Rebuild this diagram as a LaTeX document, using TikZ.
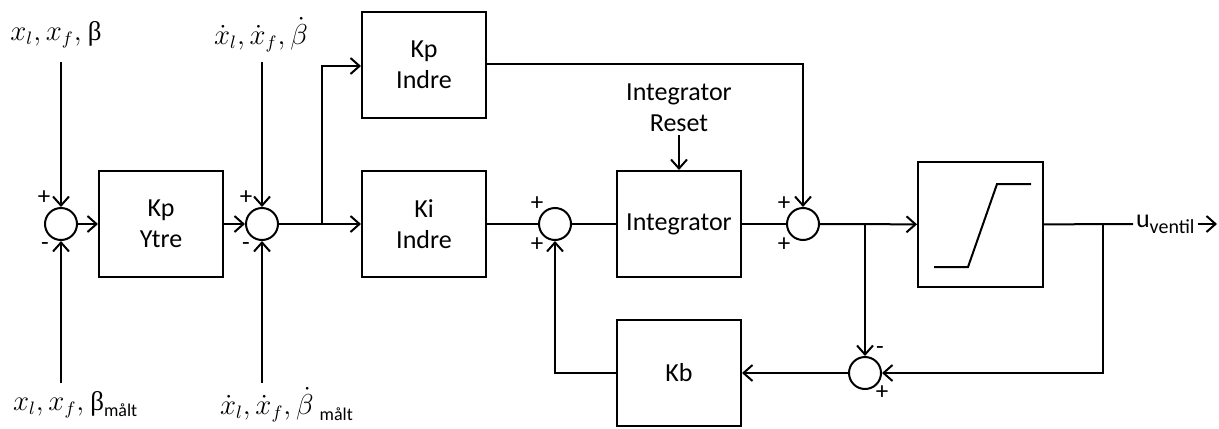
\documentclass[tikz,border=0pt]{standalone}
\usepackage{fontspec}
\setmainfont{Carlito}
\newfontfamily\grk{Liberation Serif}
\usetikzlibrary{arrows.meta}
\begin{document}
\begin{tikzpicture}[x=0.5pt,y=-0.5pt,
  line width=1pt,
  arr/.style={-{Straight Barb[length=4.5pt,width=8pt,line width=1pt]}},
  blk/.style={draw,line width=1pt,inner sep=0pt,font=\fontsize{13}{15.5}\selectfont,align=center},
  sumj/.style={draw,circle,line width=1pt,minimum size=16pt,inner sep=0pt},
  sgn/.style={font=\fontsize{12.5}{13}\selectfont,inner sep=0pt},
  lbl/.style={font=\fontsize{13.5}{15}\selectfont,inner sep=0pt}]
\useasboundingbox (0,0) rectangle (1219,428);
% blocks
\node[blk,minimum width=62pt,minimum height=53pt] (kpy) at (161,224) {Kp\\Ytre};
\node[blk,minimum width=62pt,minimum height=53pt] (kpi) at (424,65) {Kp\\Indre};
\node[blk,minimum width=62pt,minimum height=53pt] (kii) at (424,224) {Ki\\Indre};
\node[blk,minimum width=62pt,minimum height=53pt] (int) at (679,224) {Integrator};
\node[blk,minimum width=62pt,minimum height=53pt] (kb) at (679,373) {Kb};
\node[blk,minimum width=62.5pt,minimum height=62.5pt] (sat) at (980.5,224.5) {};
\draw (934,267) -- (968,267) -- (997,184) -- (1031,184);
% sums
\node[sumj] (s1) at (61,224) {};
\node[sumj] (s2) at (262,224) {};
\node[sumj] (s3) at (555,224) {};
\node[sumj] (s4) at (803,224) {};
\node[sumj] (s5) at (865,373) {};
% signs
\node[sgn] at (44,198) {+};
\node[sgn] at (45,247) {-};
\node[sgn] at (246,198) {+};
\node[sgn] at (246,247) {-};
\node[sgn] at (537,204) {+};
\node[sgn] at (537,245) {+};
\node[sgn] at (784,204) {+};
\node[sgn] at (784,245) {+};
\node[sgn] at (880,351) {-};
\node[sgn] at (882,393) {+};
% labels
\node[lbl] (t1) at (56,35) {$x_l, x_f,$ {\grk β}};
\node[lbl] (t2) at (261,35) {$\dot{x}_l, \dot{x}_f, \dot{\beta}$};
\node[lbl,anchor=west] (b1) at (12,405) {$x_l, x_f,$ {\grk β}\raisebox{-3pt}{\fontsize{9}{10}\selectfont målt}};
\node[lbl,anchor=west] (b2) at (219,405) {$\dot{x}_l, \dot{x}_f, \dot{\beta}$ \raisebox{-3pt}{\fontsize{9}{10}\selectfont målt}};
\node[font=\fontsize{13}{15.5}\selectfont,align=center,inner sep=0pt] (rst) at (679,108) {Integrator\\Reset};
\node[font=\fontsize{13}{15}\selectfont,inner sep=1pt,anchor=west] (u) at (1133,224) {u\raisebox{-3pt}{\fontsize{10}{11}\selectfont ventil}};
\coordinate (uend) at (1217,224);
\coordinate (t1b) at (61,62);
\coordinate (b1t) at (61,383);
\coordinate (t2b) at (262,62);
\coordinate (b2t) at (262,383);
\coordinate (rstb) at (679,135);
% connectors
\draw[arr] (t1b) -- (s1);
\draw[arr] (b1t) -- (s1);
\draw[arr] (s1) -- (kpy);
\draw[arr] (kpy) -- (s2);
\draw[arr] (t2b) -- (s2);
\draw[arr] (b2t) -- (s2);
\draw[arr] (s2) -- (kii);
\coordinate (br1) at (322,224);
\draw[arr] (br1) |- (kpi.west |- 0,66);
\draw (kii) -- (s3);
\draw (s3) -- (int);
\draw (int) -- (s4);
\draw[arr] (kpi.east |- 0,64) -| (s4);
\draw[arr] (rstb) -- (int);
\draw[arr] (s4) -- (sat);
\coordinate (br2) at (865,224);
\draw[arr] (br2) -- (s5);
\draw (sat) -- (u);
\draw[arr] (u) -- (uend);
\coordinate (br3) at (1103,224);
\draw[arr] (br3) |- (s5);
\draw[arr] (s5) -- (kb);
\draw[arr] (kb.west) -| (s3);
\end{tikzpicture}
\end{document}
